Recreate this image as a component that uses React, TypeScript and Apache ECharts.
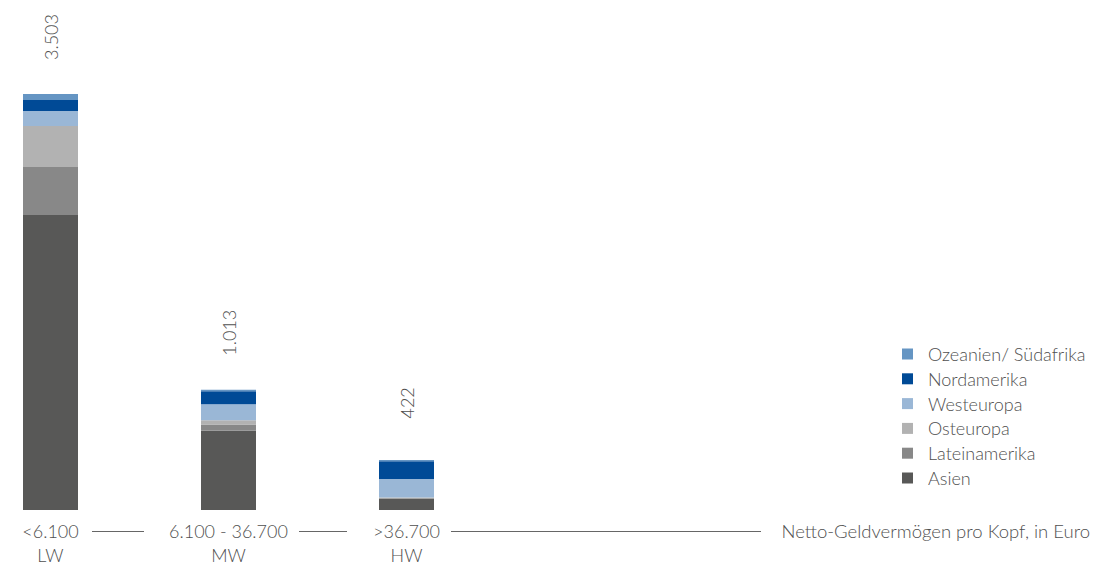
import React, { useEffect, useRef } from "react";
import * as echarts from "echarts";

const categories = ["<6.100\nLW", "6.100 - 36.700\nMW", ">36.700\nHW"];
const seriesNames = ["Asien", "Lateinamerika", "Osteuropa", "Westeuropa", "Nordamerika", "Ozeanien/ Südafrika"];
const asien = [2484, 668, 96];
const lateinamerika = [404, 52, 4];
const osteuropa = [345, 35, 5];
const westeuropa = [126, 135, 157];
const nordamerika = [93, 110, 148];
const ozeanien = [51, 13, 12];
const seriesColors = ["#585857", "#888888", "#b2b2b2", "#9ab7d6", "#004a96", "#6595c3"];
const axisTitle = "Netto-Geldvermögen pro Kopf, in Euro";

const FONT = "Lato, 'Open Sans', sans-serif";
const WEIGHT = 300;
const TEXT = "#505050";

function fmt(n: number): string {
  const s = String(Math.round(n));
  return s.replace(/\B(?=(\d{3})+(?!\d))/g, ".");
}

export default function App() {
  const ref = useRef<HTMLDivElement>(null);
  useEffect(() => {
    if (!ref.current) return;
    const chart = echarts.init(ref.current, null, { renderer: "svg" });
    const values = [asien, lateinamerika, osteuropa, westeuropa, nordamerika, ozeanien];
    const totals = categories.map((_, i) => values.reduce((a, v) => a + v[i], 0));
    const series = seriesNames.map((name, k) => ({
      name,
      type: "bar",
      stack: "total",
      barWidth: 55,
      clip: false,
      data: values[k],
      itemStyle: { color: seriesColors[k] },
      label:
        k === seriesNames.length - 1
          ? {
              show: true,
              position: "top",
              distance: 57,
              rotate: 90,
              align: "center",
              verticalAlign: "middle",
              fontFamily: FONT,
              fontWeight: WEIGHT,
              fontSize: 18,
              color: TEXT,
              formatter: (p: any) => fmt(totals[p.dataIndex]),
            }
          : { show: false },
    }));
    const lineStyle = { stroke: "#666666", lineWidth: 1 };
    chart.setOption({
      animation: false,
      grid: { left: 50.5, right: 1101 - 406.5, top: 35, bottom: 60, containLabel: false },
      xAxis: {
        type: "category",
        data: categories,
        boundaryGap: false,
        axisLine: { show: false },
        axisTick: { show: false },
        axisLabel: {
          margin: 9,
          fontFamily: FONT,
          fontWeight: WEIGHT,
          fontSize: 18,
          lineHeight: 24,
          color: TEXT,
          interval: 0,
        },
      },
      yAxis: { type: "value", min: 0, max: 4000, show: false, splitLine: { show: false } },
      legend: {
        orient: "vertical",
        left: 902,
        top: 345,
        padding: 0,
        itemWidth: 11,
        itemHeight: 11,
        itemGap: 6.8,
        icon: "rect",
        data: [...seriesNames].reverse(),
        textStyle: {
          fontFamily: FONT,
          fontWeight: WEIGHT,
          fontSize: 18,
          lineHeight: 18,
          color: TEXT,
          padding: [0, 0, 0, 10],
        },
      },
      graphic: [
        { type: "line", shape: { x1: 92, y1: 531.5, x2: 144, y2: 531.5 }, style: lineStyle },
        { type: "line", shape: { x1: 299, y1: 531.5, x2: 347, y2: 531.5 }, style: lineStyle },
        { type: "line", shape: { x1: 451, y1: 531.5, x2: 761, y2: 531.5 }, style: lineStyle },
        {
          type: "text",
          x: 1090,
          y: 531,
          style: {
            text: axisTitle,
            fontFamily: FONT,
            fontWeight: WEIGHT,
            fontSize: 18.5,
            fill: TEXT,
            align: "right",
            verticalAlign: "middle",
          },
        },
      ],
      series,
    });
    return () => chart.dispose();
  }, []);
  return <div ref={ref} style={{ position: "absolute", left: 0, top: 0, width: 1101, height: 570 }} />;
}
